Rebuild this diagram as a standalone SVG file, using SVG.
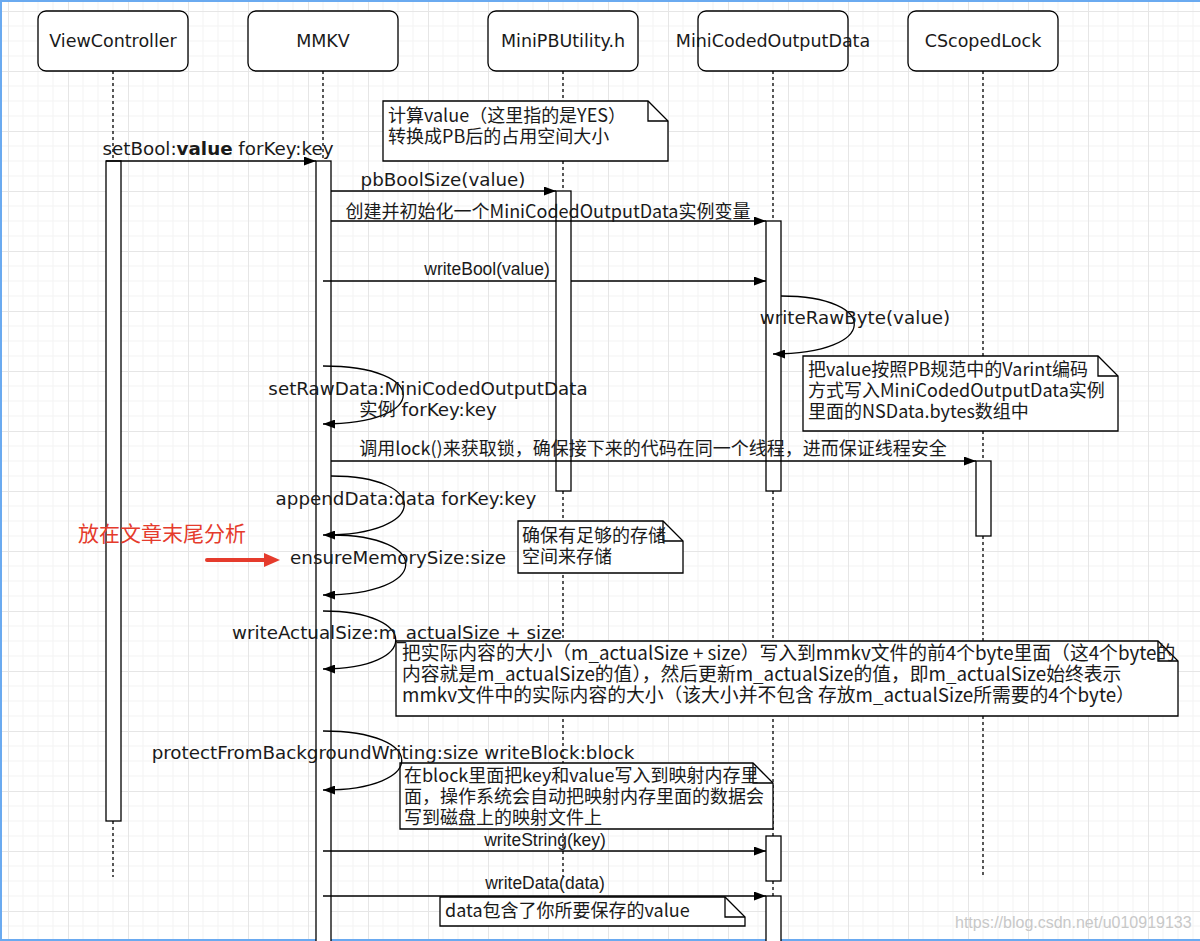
<svg xmlns="http://www.w3.org/2000/svg" width="1200" height="941" viewBox="0 0 1200 941">
<defs>
<pattern id="grid" patternUnits="userSpaceOnUse" x="8" y="11" width="60" height="60">
<path d="M15,0V60M30,0V60M45,0V60M0,15H60M0,30H60M0,45H60" stroke="#f3f3f3" stroke-width="1" fill="none"/>
<path d="M0.5,0V60M0,0.5H60" stroke="#e6e6e6" stroke-width="1" fill="none"/>
</pattern>
<marker id="arr" markerUnits="userSpaceOnUse" markerWidth="12" markerHeight="9" refX="12" refY="4.5" orient="auto">
<path d="M0,0L12,4.5L0,9Z" fill="#000"/>
</marker>
<marker id="rarr" markerUnits="userSpaceOnUse" markerWidth="16" markerHeight="14" refX="4" refY="7" orient="auto">
<path d="M0,0L16,7L0,14Z" fill="#e53b2c"/>
</marker>
<style>
.box{fill:#fff;stroke:#000;stroke-width:1.3}
.life{fill:none;stroke:#000;stroke-width:1.3;stroke-dasharray:3 3}
.act{fill:#fff;stroke:#000;stroke-width:1.3}
.msg{fill:none;stroke:#000;stroke-width:1.3;marker-end:url(#arr)}
.note{fill:#fff;stroke:#000;stroke-width:1.3}
.fold{fill:none;stroke:#000;stroke-width:1.3}
.pt{font-family:"DejaVu Sans",sans-serif;font-size:17.5px;text-anchor:middle;fill:#1a1a1a}
.ml{font-family:"DejaVu Sans","Noto Sans CJK SC",sans-serif;font-size:18.3px;text-anchor:middle;fill:#1a1a1a}
.mn{font-family:"Liberation Sans",sans-serif;font-size:17.5px;text-anchor:middle;fill:#1a1a1a}
.cn{font-family:"Noto Sans CJK SC",sans-serif;font-size:18px;fill:#1a1a1a}
.cn.big{font-size:18.8px}
</style>
</defs>
<rect x="0" y="0" width="1200" height="941" fill="#fff"/>
<rect x="0" y="0" width="1200" height="941" fill="url(#grid)"/>
<path d="M0,1H1200M1,0V941M0,940H1200" stroke="#6aaaf0" stroke-width="2" fill="none"/>

<g id="ViewController">
<rect class="box" x="38" y="11" width="150" height="60" rx="8"/>
<text class="pt" x="113" y="47">ViewController</text>
<path class="life" d="M113,71V161M113,821V877"/>
<rect class="act" x="106" y="161" width="15" height="660"/>
</g>
<g id="MMKV">
<rect class="box" x="248" y="11" width="150" height="60" rx="8"/>
<text class="pt" x="323" y="47">MMKV</text>
<path class="life" d="M323,71V161"/>
<rect class="act" x="316" y="161" width="15" height="790"/>
</g>
<g id="MiniPBUtility">
<rect class="box" x="488" y="11" width="150" height="60" rx="8"/>
<text class="pt" x="563" y="47">MiniPBUtility.h</text>
<path class="life" d="M563,71V191M563,491V877"/>
<rect class="act" x="556" y="191" width="15" height="300"/>
</g>
<g id="MiniCodedOutputData">
<rect class="box" x="698" y="11" width="150" height="60" rx="8"/>
<text class="pt" x="773" y="47">MiniCodedOutputData</text>
<path class="life" d="M773,71V221M773,491V836M773,881V896"/>
<rect class="act" x="766" y="221" width="15" height="270"/>
<rect class="act" x="766" y="836" width="15" height="45"/>
<rect class="act" x="766" y="896" width="15" height="55"/>
</g>
<g id="CScopedLock">
<rect class="box" x="908" y="11" width="150" height="60" rx="8"/>
<text class="pt" x="983" y="47">CScopedLock</text>
<path class="life" d="M983,71V461M983,536V877"/>
<rect class="act" x="976" y="461" width="15" height="75"/>
</g>

<g id="note1">
<path class="note" d="M383,101H648L668,121V161H383Z"/><path class="fold" d="M648,101V121H668"/>
<text class="cn" x="388" y="122">计算value（这里指的是YES）</text>
<text class="cn" x="388" y="143">转换成PB后的占用空间大小</text>
</g>
<g id="note2">
<path class="note" d="M803,356H1098L1118,376V431H803Z"/><path class="fold" d="M1098,356V376H1118"/>
<text class="cn" x="808" y="376">把value按照PB规范中的Varint编码</text>
<text class="cn" x="808" y="397">方式写入MiniCodedOutputData实例</text>
<text class="cn" x="808" y="418">里面的NSData.bytes数组中</text>
</g>
<g id="note3">
<path class="note" d="M518,521H663L683,541V573H518Z"/><path class="fold" d="M663,521V541H683"/>
<text class="cn" x="522" y="542">确保有足够的存储</text>
<text class="cn" x="522" y="563">空间来存储</text>
</g>
<g id="note4">
<path class="note" d="M396,641H1158L1178,661V716H396Z"/><path class="fold" d="M1158,641V661H1178"/>
<text class="cn big" x="402" y="660">把实际内容的大小（m_actualSize + size）写入到mmkv文件的前4个byte里面（这4个byte的</text>
<text class="cn big" x="402" y="681">内容就是m_actualSize的值），然后更新m_actualSize的值，即m_actualSize始终表示</text>
<text class="cn big" x="402" y="702">mmkv文件中的实际内容的大小（该大小并不包含 存放m_actualSize所需要的4个byte）</text>
</g>
<g id="note5">
<path class="note" d="M400,763H753L773,783V829H400Z"/><path class="fold" d="M753,763V783H773"/>
<text class="cn" x="404" y="782">在block里面把key和value写入到映射内存里</text>
<text class="cn" x="404" y="803">面，操作系统会自动把映射内存里面的数据会</text>
<text class="cn" x="404" y="824">写到磁盘上的映射文件上</text>
</g>
<g id="note6">
<path class="note" d="M440,897H725L745,917V926H440Z"/><path class="fold" d="M725,897V917H745"/>
<text class="cn" x="445" y="917">data包含了你所要保存的value</text>
</g>

<g id="connectors">
<path class="msg" d="M106,161H316"/>
<path class="msg" d="M331,191H556"/>
<path class="msg" d="M331,221H766"/>
<path class="msg" d="M323,281H556M571,281H766"/>
<path class="msg" d="M781,296C880,296 880,354 773,354"/>
<path class="msg" d="M323,366C430,366 430,424 323,424"/>
<path class="msg" d="M331,461H976"/>
<path class="msg" d="M331,476C430,476 430,535 323,535"/>
<path class="msg" d="M331,535C432,535 432,595 323,595"/>
<path class="msg" d="M323,611C420,611 420,669 323,669"/>
<path class="msg" d="M323,731C428,731 428,790 323,790"/>
<path class="msg" d="M323,851H766"/>
<path class="msg" d="M323,896H766"/>
</g>

<g id="labels">
<text class="ml" x="218" y="155">setBool:<tspan font-weight="bold">value</tspan> forKey:key</text>
<text class="ml" x="443" y="186">pbBoolSize(value)</text>
<text class="cn" x="548" y="218" text-anchor="middle">创建并初始化一个MiniCodedOutputData实例变量</text>
<text class="mn" x="487" y="275">writeBool(value)</text>
<text class="ml" x="855" y="324">writeRawByte(value)</text>
<text class="ml" x="428" y="395">setRawData:MiniCodedOutputData</text>
<text class="ml" x="428" y="416">实例 forKey:key</text>
<text class="cn" x="653" y="455" text-anchor="middle">调用lock()来获取锁，确保接下来的代码在同一个线程，进而保证线程安全</text>
<text class="ml" x="406" y="505">appendData:data forKey:key</text>
<text class="ml" x="398" y="564">ensureMemorySize:size</text>
<text class="ml" x="397" y="639">writeActualSize:m_actualSize + size</text>
<text class="ml" x="393" y="759">protectFromBackgroundWriting:size writeBlock:block</text>
<text class="mn" x="545" y="846">writeString(key)</text>
<text class="mn" x="545" y="889">writeData(data)</text>
</g>

<g id="annotation">
<text x="78" y="541" font-family="Noto Sans CJK SC,sans-serif" font-size="21" fill="#e53b2c">放在文章末尾分析</text>
<path d="M207,560H268" stroke="#e53b2c" stroke-width="4" stroke-linecap="round" fill="none" marker-end="url(#rarr)"/>
</g>
<text x="955" y="928" font-family="Liberation Sans,sans-serif" font-size="16" fill="#c8c8c8">https://blog.csdn.net/u010919133</text>
</svg>
